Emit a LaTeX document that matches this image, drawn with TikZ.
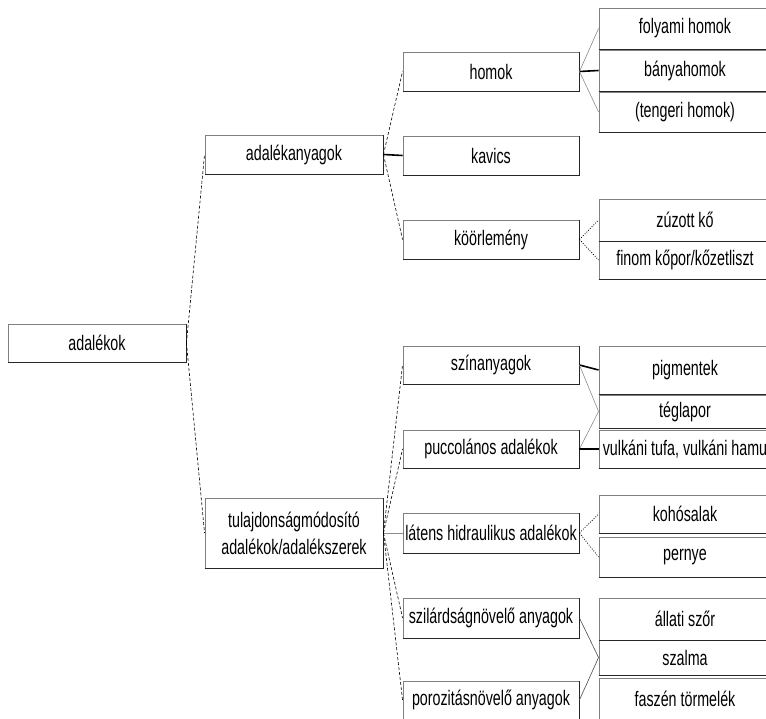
\documentclass[tikz,border=0pt]{standalone}
\usepackage{fontspec}
\setmainfont{Liberation Sans}[FakeStretch=0.68]
\begin{document}
\begin{tikzpicture}[x=1pt,y=-1pt,
  box/.style={draw=black!50, line width=0.9pt, fill=white, inner sep=0pt, align=center,
    font=\fontsize{21}{27}\selectfont, text=black},
  lw/.style={box, minimum width=178pt},
  mw/.style={box, minimum width=176pt},
  rw/.style={box, minimum width=172pt},
  dashline/.style={draw=black, line width=0.6pt, dash pattern=on 3pt off 2pt},
  dotline/.style={draw=black, line width=0.7pt, dash pattern=on 1pt off 1.5pt},
  thinline/.style={draw=black!45, line width=0.6pt},
  thickline/.style={draw=black, line width=1.6pt}]
\clip (0,0) rectangle (766,719);
\fill[white] (0,0) rectangle (766,719);
% level 0
\node[box, minimum width=178pt, minimum height=38pt] (adalekok) at (97,343) {adalékok};
% level 1
\node[lw, minimum height=39pt] (anyagok) at (294,154.5) {adalékanyagok};
\node[lw, minimum height=70pt] (tulaj) at (294,533) {tulajdonságmódosító\\adalékok/adalékszerek};
% level 2
\node[mw, minimum height=39pt] (homok) at (491,71.5) {homok};
\node[mw, minimum height=39pt] (kavics) at (491,155.5) {kavics};
\node[mw, minimum height=39pt] (koorl) at (491,239.5) {köörlemény};
\node[mw, minimum height=38pt] (szin) at (491,365) {színanyagok};
\node[mw, minimum height=38pt] (pucc) at (491,449) {puccolános adalékok};
\node[mw, minimum height=40pt] (latens) at (491,533) {látens hidraulikus adalékok};
\node[mw, minimum height=40pt] (szil) at (491,618) {szilárdságnövelő anyagok};
\node[mw, minimum height=38pt] (poroz) at (491,700) {porozitásnövelő anyagok};
% level 3
\node[rw, minimum height=41pt] (folyami) at (685,28.5) {folyami homok};
\node[rw, minimum height=41pt] (banya) at (685,70.5) {bányahomok};
\node[rw, minimum height=40pt] (tenger) at (685,112) {(tengeri homok)};
\node[rw, minimum height=42pt] (zuzott) at (685,220) {zúzott kő};
\node[rw, minimum height=38pt] (finom) at (685,260) {finom kőpor/kőzetliszt};
\node[rw, minimum height=48pt] (pigment) at (685,370) {pigmentek};
\node[rw, minimum height=33pt] (tegla) at (685,411.5) {téglapor};
\node[rw, minimum height=38pt] (vulkan) at (685,449) {vulkáni tufa, vulkáni hamu};
\node[rw, minimum height=38pt] (koho) at (685,514) {kohósalak};
\node[rw, minimum height=40pt] (pernye) at (685,557) {pernye};
\node[rw, minimum height=42pt] (allati) at (685,619) {állati szőr};
\node[rw, minimum height=35pt] (szalma) at (685,657.5) {szalma};
\node[rw, minimum height=41pt] (faszen) at (685,698.5) {faszén törmelék};
% darker bottom and right edges
\foreach \n in {adalekok,anyagok,tulaj,homok,kavics,koorl,szin,pucc,latens,szil,poroz,folyami,banya,tenger,zuzott,finom,pigment,tegla,vulkan,koho,pernye,allati,szalma,faszen}{
  \draw[black!85, line width=1.2pt] (\n.south west) -- (\n.south east) -- (\n.north east);
}
% connectors
\draw[dashline] (adalekok.east) -- (anyagok.west);
\draw[dashline] (adalekok.east) -- (tulaj.west);
\draw[dashline] (anyagok.east) -- (homok.west);
\draw[thickline] (anyagok.east) -- (kavics.west);
\draw[dashline] (anyagok.east) -- (koorl.west);
\draw[thinline] (homok.east) -- (folyami.west);
\draw[thickline] (homok.east) -- (banya.west);
\draw[thinline] (homok.east) -- (tenger.west);
\draw[dotline] (koorl.east) -- (zuzott.west);
\draw[dotline] (koorl.east) -- (finom.west);
\draw[dashline] (tulaj.east) -- (szin.west);
\draw[dashline] (tulaj.east) -- (pucc.west);
\draw[thinline] (tulaj.east) -- (latens.west);
\draw[dashline] (tulaj.east) -- (szil.west);
\draw[dashline] (tulaj.east) -- (poroz.west);
\draw[thickline] (szin.east) -- (pigment.west);
\draw[thinline] (szin.east) -- (tegla.west);
\draw[thinline] (pucc.east) -- (tegla.west);
\draw[thickline] (pucc.east) -- (vulkan.west);
\draw[dotline] (latens.east) -- (koho.west);
\draw[dotline] (latens.east) -- (pernye.west);
\draw[thinline, draw=black!70] (szil.east) -- (szalma.west);
\draw[thinline, draw=black!70] (poroz.east) -- (szalma.west);
\end{tikzpicture}
\end{document}
